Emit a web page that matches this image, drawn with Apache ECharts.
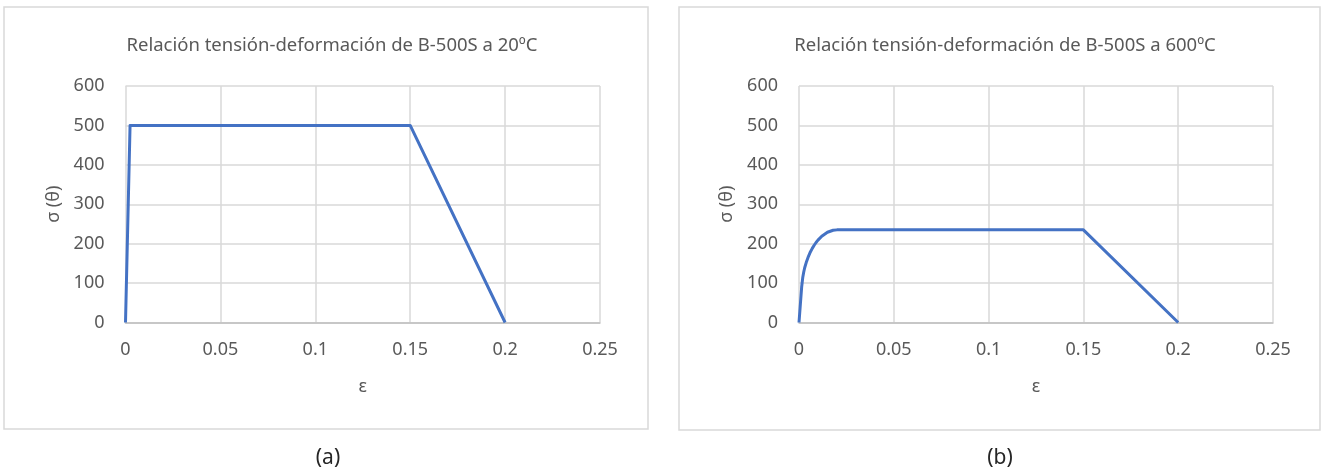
<!DOCTYPE html>
<html>
<head>
<meta charset="utf-8">
<script src="https://cdn.jsdelivr.net/npm/echarts@6/dist/echarts.min.js"></script>
<style>
html,body{margin:0;padding:0;background:#fff;}
#c{width:1324px;height:472px;}
</style>
</head>
<body>
<div id="c"></div>
<script>
// Panel (a): B-500S at 20ºC
const epsA = [0, 0.0024, 0.15, 0.2];
const sigA = [0, 500, 500, 0];
// Panel (b): B-500S at 600ºC
const epsB = [0, 0.0007, 0.0014, 0.002, 0.0025, 0.003, 0.004, 0.005, 0.006, 0.007, 0.008, 0.009, 0.010, 0.012, 0.015, 0.018, 0.020, 0.15, 0.20];
const sigB = [0, 45, 90, 115, 128, 139, 155, 168, 179, 188, 196, 203, 209, 219, 229, 234, 235, 235, 0];
const titles = ['Relación tensión-deformación de B-500S a 20ºC', 'Relación tensión-deformación de B-500S a 600ºC'];
const panelLabels = ['(a)', '(b)'];
const xTicks = [0, 0.05, 0.1, 0.15, 0.2, 0.25];
const yTicks = [0, 100, 200, 300, 400, 500, 600];
const xName = 'ε';
const yName = 'σ (θ)';

const FONT = 'Noto Sans';
const TXT = '#595959';
const GRIDC = '#d9d9d9';

function pairs(xs, ys){ return xs.map((x,i)=>[x, ys[i]]); }

function xAx(gi){
  return {
    type:'value', gridIndex:gi, min:xTicks[0], max:xTicks[xTicks.length-1], interval:0.05,
    name:xName, nameLocation:'middle', nameGap:55,
    nameTextStyle:{color:TXT, fontFamily:FONT, fontSize:18},
    axisLine:{show:true, lineStyle:{color:'#bfbfbf', width:1.5}},
    axisTick:{show:false},
    axisLabel:{color:TXT, fontFamily:FONT, fontSize:18, margin:18,
      formatter:(v)=>String(Math.round(v*100)/100)},
    splitLine:{show:true, lineStyle:{color:GRIDC, width:1.5}}
  };
}
function yAx(gi){
  return {
    type:'value', gridIndex:gi, min:yTicks[0], max:yTicks[yTicks.length-1], interval:100,
    name:yName, nameLocation:'middle', nameGap:63, nameRotate:90,
    nameTextStyle:{color:TXT, fontFamily:FONT, fontSize:18},
    axisLine:{show:false},
    axisTick:{show:false},
    axisLabel:{color:TXT, fontFamily:FONT, fontSize:18, margin:21},
    splitLine:{show:true, lineStyle:{color:GRIDC, width:1.5}}
  };
}

const chart = echarts.init(document.getElementById('c'), null, {renderer:'canvas'});
chart.setOption({
  animation:false,
  backgroundColor:'#fff',
  title:[
    {text:titles[0], left:327, top:31, textAlign:'center', textStyle:{color:TXT, fontFamily:FONT, fontSize:18.5, fontWeight:'normal'}},
    {text:titles[1], left:1000, top:31, textAlign:'center', textStyle:{color:TXT, fontFamily:FONT, fontSize:18.5, fontWeight:'normal'}}
  ],
  grid:[
    {left:125.5, top:86, width:474.5, height:236.5},
    {left:799, top:86, width:474, height:236.5}
  ],
  xAxis:[xAx(0), xAx(1)],
  yAxis:[yAx(0), yAx(1)],
  series:[
    {type:'line', xAxisIndex:0, yAxisIndex:0, data:pairs(epsA, sigA), showSymbol:false, symbol:'none',
      lineStyle:{color:'#4472C4', width:3, join:'round'}, z:5},
    {type:'line', xAxisIndex:1, yAxisIndex:1, data:pairs(epsB, sigB), showSymbol:false, symbol:'none',
      lineStyle:{color:'#4472C4', width:3, join:'round'}, z:5}
  ],
  graphic:[
    {type:'rect', shape:{x:4, y:7, width:644, height:422}, style:{fill:null, stroke:GRIDC, lineWidth:1.5}, silent:true},
    {type:'rect', shape:{x:679, y:7, width:641, height:423}, style:{fill:null, stroke:GRIDC, lineWidth:1.5}, silent:true},
    {type:'text', x:328, y:458, style:{text:panelLabels[0], fill:'#262626', font:'21px "Noto Sans"', align:'center', verticalAlign:'middle'}},
    {type:'text', x:1000, y:458, style:{text:panelLabels[1], fill:'#262626', font:'21px "Noto Sans"', align:'center', verticalAlign:'middle'}}
  ]
});
</script>
</body>
</html>
